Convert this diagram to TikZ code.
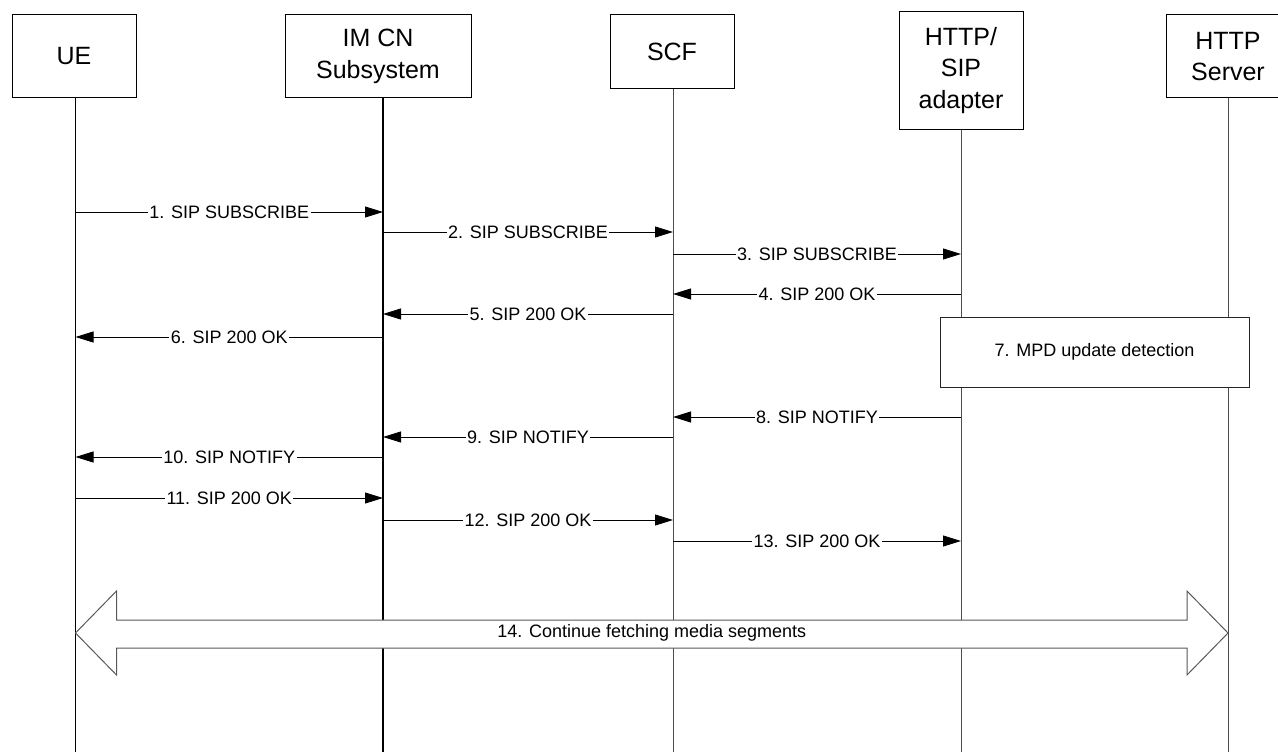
\documentclass[tikz,border=0pt]{standalone}
\usepackage{fontspec}
\setmainfont{Liberation Sans}
\usetikzlibrary{arrows.meta,calc}
\begin{document}
\begin{tikzpicture}[x=1pt,y=-1pt,
  actor/.style={draw, line width=1pt, align=center, inner sep=0pt,
    font=\fontsize{25}{31.5}\selectfont},
  lifeA/.style={line width=1.1pt, black},
  lifeB/.style={line width=0.9pt, black!70},
  msg/.style={line width=0.9pt, -{Triangle[length=18pt,width=11pt]}},
  lbl/.style={fill=white, font=\fontsize{18}{21}\selectfont, inner xsep=1.5pt, inner ysep=1pt},
  procbox/.style={draw=black!85, line width=0.9pt, fill=white, inner sep=0pt,
    font=\fontsize{18}{21}\selectfont},
  bigarrow/.style={draw=black!65, line width=1pt, fill=white, line join=miter},
]
\useasboundingbox (0,0) rectangle (1278,752);
\clip (0,0) rectangle (1278,752);

% actors
\node[actor, minimum width=124pt, minimum height=83pt] (ue) at (74,56.5) {UE};
\node[actor, minimum width=186pt, minimum height=83pt] (imcn) at (378,56.5) {IM CN\\Subsystem};
\node[actor, minimum width=124pt, minimum height=74pt] (scf) at (672,52) {SCF};
\node[actor, minimum width=124pt, minimum height=117pt] (ada) at (961,70.5) {HTTP/\\SIP\\adapter};
\node[actor, minimum width=124pt, minimum height=83pt] (srv) at (1228,56.5) {HTTP\\Server};

% lifeline tops
\path ([xshift=1.5pt]ue.south) coordinate (ueT);
\path ([xshift=5pt]imcn.south) coordinate (imT);
\path ([xshift=1pt]scf.south) coordinate (scT);
\path (ada.south) coordinate (adT);
\path (srv.south) coordinate (svT);

% lifelines
\draw[lifeA] (ueT) -- (ueT |- 0,752);
\draw[lifeA] (imT) -- (imT |- 0,752);
\draw[lifeB] (scT) -- (scT |- 0,752);
\draw[lifeB] (adT) -- (adT |- 0,752);
\draw[lifeB] (svT) -- (svT |- 0,752);

% messages
\foreach \a/\b/\y/\t in {
  ueT/imT/212/1. SIP SUBSCRIBE,
  imT/scT/232/2. SIP SUBSCRIBE,
  scT/adT/254/3. SIP SUBSCRIBE,
  adT/scT/294/4. SIP 200 OK,
  scT/imT/314/5. SIP 200 OK,
  imT/ueT/337/6. SIP 200 OK,
  adT/scT/417/8. SIP NOTIFY,
  scT/imT/437/9. SIP NOTIFY,
  imT/ueT/457/10. SIP NOTIFY,
  ueT/imT/498/11. SIP 200 OK,
  imT/scT/520/12. SIP 200 OK,
  scT/adT/541/13. SIP 200 OK}
  \draw[msg] (\a |- 0,\y) -- node[lbl] {\t} (\b |- 0,\y);

% step 7
\node[procbox, minimum width=309pt, minimum height=70pt] (mpd) at (1094.5,352) {7. MPD update detection};

% step 14: big double arrow
\coordinate (bl) at (ueT |- 0,633);
\coordinate (br) at (svT |- 0,633);
\draw[bigarrow] (bl) -- ($(bl)+(41,-42)$) -- ($(bl)+(41,-13)$) -- ($(br)+(-41,-13)$)
  -- ($(br)+(-41,-42)$) -- (br) -- ($(br)+(-41,42)$) -- ($(br)+(-41,15)$)
  -- ($(bl)+(41,15)$) -- ($(bl)+(41,42)$) -- cycle;
\node[font=\fontsize{18}{21}\selectfont, inner sep=0pt] (fetch) at ($(bl)!0.5!(br)$) {14. Continue fetching media segments};
\end{tikzpicture}
\end{document}
